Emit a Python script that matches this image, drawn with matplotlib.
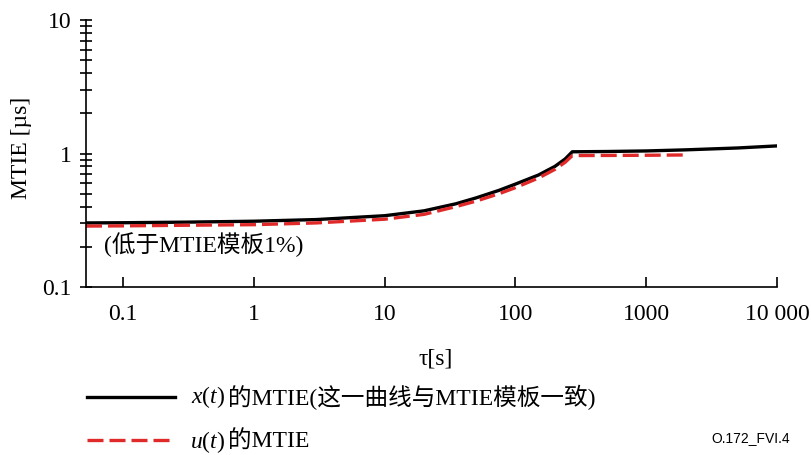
import matplotlib
matplotlib.use('Agg')
import matplotlib.pyplot as plt
from matplotlib.ticker import FixedLocator, LogLocator, NullFormatter

plt.rcParams['font.family'] = ['Liberation Serif', 'Noto Sans CJK SC']
plt.rcParams['mathtext.fontset'] = 'custom'
plt.rcParams['mathtext.rm'] = 'Liberation Serif'
plt.rcParams['mathtext.it'] = 'Liberation Serif:italic'

# tau [s] and MTIE [us]
tau_x = [0.052, 0.1, 0.3, 1, 3, 10, 20, 35, 50, 75, 100, 150, 200, 240, 272, 500, 1000, 2000, 5000, 10000]
mtie_x = [0.302, 0.303, 0.306, 0.311, 0.32, 0.342, 0.372, 0.42, 0.465, 0.53, 0.59, 0.69, 0.80, 0.91, 1.03,
          1.035, 1.045, 1.065, 1.10, 1.14]

tau_u = [0.052, 0.1, 0.3, 1, 3, 10, 20, 35, 50, 75, 100, 150, 200, 240, 272, 500, 1000, 1950]
mtie_u = [0.286, 0.287, 0.29, 0.293, 0.302, 0.322, 0.35, 0.40, 0.44, 0.50, 0.555, 0.655, 0.76, 0.86, 0.965,
          0.967, 0.97, 0.975]

xticks = [0.1, 1, 10, 100, 1000, 10000]
xticklabels = ['0.1', '1', '10', '100', '1000', '10 000']
yticks = [0.1, 1, 10]
yticklabels = ['0.1', '1', '10']

fs = 17

fig = plt.figure(figsize=(8.12, 4.55), dpi=100)
ax = fig.add_axes([86 / 812, 1 - 287 / 455, (777 - 86) / 812, (287 - 20) / 455])

ax.plot(tau_x, mtie_x, color='black', lw=2.4, label='的MTIE(这一曲线与MTIE模板一致)')
ax.plot(tau_u, mtie_u, color='#e02a2a', lw=2.4, ls=(0, (4.8, 1.8)), label='的MTIE')

ax.set_xscale('log')
ax.set_yscale('log')
ax.set_xlim(0.052, 10000)
ax.set_ylim(0.1, 10)

ax.xaxis.set_major_locator(FixedLocator(xticks))
ax.set_xticklabels(xticklabels)
ax.xaxis.set_minor_locator(FixedLocator([]))
ax.yaxis.set_major_locator(FixedLocator(yticks))
ax.set_yticklabels(yticklabels)
ax.yaxis.set_minor_locator(LogLocator(base=10, subs=range(2, 10)))
ax.yaxis.set_minor_formatter(NullFormatter())

ax.tick_params(axis='x', which='major', direction='in', length=7, width=1.2,
               labelsize=fs, pad=12)
ax.tick_params(axis='y', which='major', direction='inout', length=9, width=1.2,
               labelsize=fs, pad=6)
ax.tick_params(axis='y', which='minor', direction='inout', length=9, width=1.2)

for side in ['top', 'right']:
    ax.spines[side].set_visible(False)
for side in ['left', 'bottom']:
    ax.spines[side].set_linewidth(1.2)

ax.set_ylabel('MTIE [µs]', fontsize=fs)
ax.yaxis.set_label_coords(-0.078, 0.52)
ax.set_xlabel('τ[s]', fontsize=fs)
ax.xaxis.set_label_coords(0.5065, -0.23)

ax.text(0.072, 0.206, '(低于MTIE模板1%)', fontsize=fs, va='center', ha='left')

leg = ax.legend(loc='upper left', bbox_to_anchor=(-0.012, -0.33), frameon=False,
                fontsize=fs, handlelength=3.7, handletextpad=2.27, labelspacing=0.9,
                borderaxespad=0)

# italic x(t) / u(t) in front of the legend texts
for txt, name in zip(leg.get_texts(), ['$x(t)$', '$u(t)$']):
    ax.annotate(name, xy=(0, 0.5), xycoords=txt, xytext=(-2, 0),
                textcoords='offset points', ha='right', va='center', fontsize=fs,
                zorder=10)

fig.text(0.973, 0.037, 'O.172_FVI.4', family='Liberation Sans', fontsize=10,
         ha='right', va='center')

fig.savefig('out.png', dpi=100)
plt.close(fig)
